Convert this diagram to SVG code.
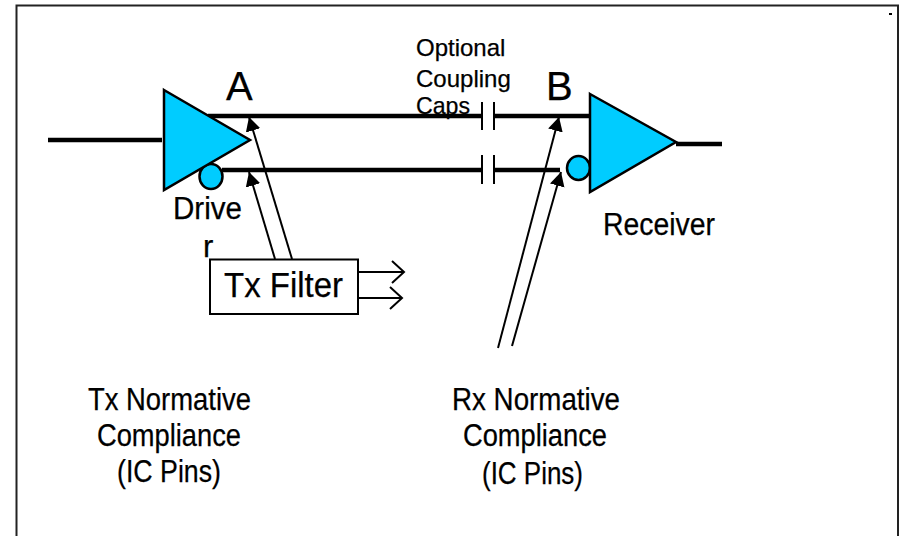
<svg xmlns="http://www.w3.org/2000/svg" width="901" height="536" viewBox="0 0 901 536">
<style>
text{font-family:"Liberation Sans",Arial,sans-serif;fill:#000;stroke:#000;stroke-width:.25}
.l{font-size:31px}
.s{font-size:24px}
.big{font-size:40px}
.wire{stroke:#000;stroke-width:4.5;fill:none}
.thin{stroke:#000;stroke-width:2;fill:none}
.plate{stroke:#000;stroke-width:2;fill:none}
.blue{fill:#00ccff;stroke:#000;stroke-width:2.5;stroke-linejoin:miter}
</style>
<defs>
<marker id="ah" markerUnits="userSpaceOnUse" markerWidth="16" markerHeight="16" refX="14" refY="7.5" orient="auto"><path d="M0 0L14 7.500L0 15Z" fill="#000"/></marker>
<marker id="oh" markerUnits="userSpaceOnUse" markerWidth="16" markerHeight="26" refX="13" refY="12" orient="auto"><path d="M1 1L13 12L1 23" fill="none" stroke="#000" stroke-width="2"/></marker>
</defs>
<rect width="901" height="536" fill="#fff"/>
<path d="M16.500 536V5.500H898V536" fill="none" stroke="#222" stroke-width="2"/>
<rect x="889" y="13" width="3" height="2" fill="#000"/>
<g id="connectors">
<path class="wire" d="M48 140H162"/>
<path class="wire" d="M208 116H482M494 116H590"/>
<path class="wire" d="M222 170H482M494 170H560"/>
<path class="wire" d="M676 144H722"/>
<path class="plate" d="M482 102V130M494 102V130M482 155V184M494 155V184"/>
<path class="thin" d="M292 259L249 117" marker-end="url(#ah)"/>
<path class="thin" d="M275 259L249 172" marker-end="url(#ah)"/>
<path class="thin" d="M498 348L559 117" marker-end="url(#ah)"/>
<path class="thin" d="M512 346L561 172" marker-end="url(#ah)"/>
<path class="thin" d="M358 272H404" marker-end="url(#oh)"/>
<path class="thin" d="M358 298H402" marker-end="url(#oh)"/>
</g>
<g id="driver">
<ellipse class="blue" cx="211" cy="176.500" rx="11.500" ry="12.500"/>
<path class="blue" d="M164 90L250 140L164 190Z"/>
<text class="l" x="173" y="219" textLength="69" lengthAdjust="spacingAndGlyphs">Drive</text>
<text class="l" x="203" y="257">r</text>
</g>
<g id="label-a"><text class="big" x="226" y="100">A</text></g>
<g id="label-b"><text class="big" x="546" y="100">B</text></g>
<g id="caps-label">
<text class="s" x="416" y="56">Optional</text>
<text class="s" x="416" y="87">Coupling</text>
<text class="s" x="416" y="114" textLength="54" lengthAdjust="spacingAndGlyphs">Caps</text>
</g>
<g id="receiver">
<ellipse class="blue" cx="578.500" cy="168" rx="11.500" ry="12"/>
<path class="blue" d="M590 94L676 142L590 192Z"/>
<text class="l" x="603" y="235" textLength="112" lengthAdjust="spacingAndGlyphs">Receiver</text>
</g>
<g id="tx-filter">
<rect x="210" y="259.500" width="148" height="54.500" fill="#fff" stroke="#000" stroke-width="2"/>
<text x="224" y="297" font-size="35" textLength="119" lengthAdjust="spacingAndGlyphs">Tx Filter</text>
</g>
<g id="tx-compliance">
<text class="l" x="88" y="410" textLength="163" lengthAdjust="spacingAndGlyphs">Tx Normative</text>
<text class="l" x="97" y="446" textLength="144" lengthAdjust="spacingAndGlyphs">Compliance</text>
<text class="l" x="117" y="482" textLength="104" lengthAdjust="spacingAndGlyphs">(IC Pins)</text>
</g>
<g id="rx-compliance">
<text class="l" x="452" y="410" textLength="168" lengthAdjust="spacingAndGlyphs">Rx Normative</text>
<text class="l" x="463" y="446" textLength="144" lengthAdjust="spacingAndGlyphs">Compliance</text>
<text class="l" x="482" y="484" textLength="101" lengthAdjust="spacingAndGlyphs">(IC Pins)</text>
</g>
</svg>
